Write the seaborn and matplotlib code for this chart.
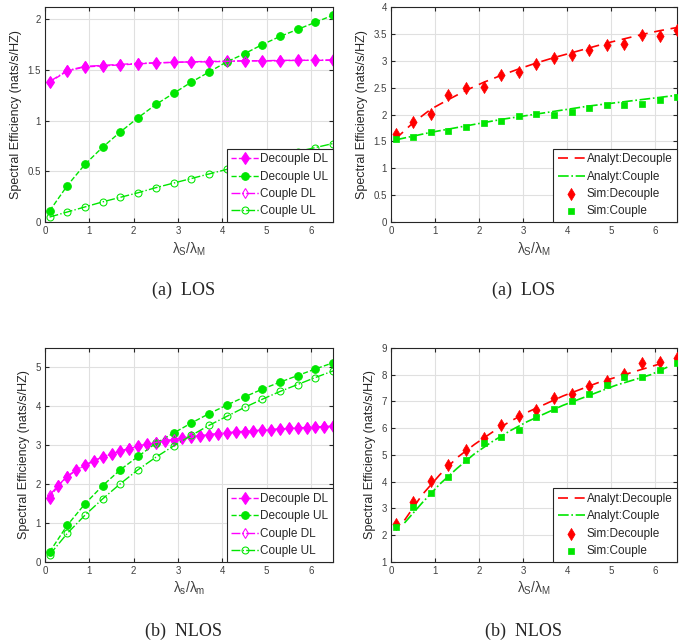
import numpy as np
import pandas as pd
import matplotlib
matplotlib.use('Agg')
import matplotlib.pyplot as plt
import seaborn as sns
from matplotlib.ticker import FormatStrFormatter

# x grids
x = [0.1, 0.5, 0.9, 1.3, 1.7, 2.1, 2.5, 2.9, 3.3, 3.7, 4.1, 4.5, 4.9, 5.3, 5.7, 6.1, 6.5]
x_fine = [0.1, 0.3, 0.5, 0.7, 0.9, 1.1, 1.3, 1.5, 1.7, 1.9, 2.1, 2.3, 2.5, 2.7, 2.9, 3.1, 3.3,
          3.5, 3.7, 3.9, 4.1, 4.3, 4.5, 4.7, 4.9, 5.1, 5.3, 5.5, 5.7, 5.9, 6.1, 6.3, 6.5]
x_an = [0.3, 0.7, 1.1, 1.5, 1.9, 2.3, 2.7, 3.1, 3.5, 3.9, 4.3, 4.7, 5.1, 5.5, 5.9, 6.3]

# (a) LOS, left panel
los_dec_dl = [1.38, 1.49, 1.53, 1.54, 1.55, 1.56, 1.57, 1.575, 1.58, 1.58, 1.585, 1.59, 1.59, 1.59, 1.595, 1.595, 1.595]
los_dec_ul = [0.11, 0.36, 0.57, 0.74, 0.89, 1.03, 1.16, 1.27, 1.38, 1.48, 1.58, 1.66, 1.75, 1.83, 1.90, 1.97, 2.04]
los_cou_dl = [1.385, 1.495, 1.535, 1.545, 1.555, 1.565, 1.57, 1.575, 1.58, 1.585, 1.585, 1.59, 1.59, 1.595, 1.595, 1.595, 1.60]
los_cou_ul = [0.05, 0.10, 0.15, 0.20, 0.245, 0.29, 0.34, 0.385, 0.43, 0.475, 0.52, 0.565, 0.61, 0.65, 0.695, 0.735, 0.775]

# (a) LOS, right panel
los_an_dec = [1.55, 1.85, 2.10, 2.28, 2.45, 2.60, 2.73, 2.85, 2.96, 3.06, 3.15, 3.24, 3.33, 3.41, 3.49, 3.56, 3.62]
los_an_cou = [1.53, 1.60, 1.67, 1.73, 1.79, 1.85, 1.91, 1.96, 2.01, 2.06, 2.11, 2.16, 2.20, 2.24, 2.28, 2.32, 2.36]
los_sim_dec = [1.63, 1.86, 2.01, 2.37, 2.49, 2.51, 2.73, 2.80, 2.94, 3.06, 3.10, 3.20, 3.30, 3.32, 3.48, 3.46, 3.58]
los_sim_cou = [1.54, 1.59, 1.68, 1.70, 1.77, 1.84, 1.88, 1.97, 2.01, 1.99, 2.05, 2.13, 2.17, 2.18, 2.19, 2.27, 2.33]

# (b) NLOS, left panel
nlos_dec_dl = [1.65, 1.96, 2.19, 2.35, 2.48, 2.59, 2.69, 2.77, 2.84, 2.91, 2.97, 3.02, 3.06, 3.10, 3.14, 3.18, 3.21,
               3.24, 3.27, 3.29, 3.31, 3.33, 3.35, 3.37, 3.38, 3.40, 3.41, 3.43, 3.44, 3.45, 3.46, 3.47, 3.48]
nlos_cou_dl = [1.71, 1.97, 2.20, 2.36, 2.49, 2.60, 2.70, 2.78, 2.85, 2.92, 2.98, 3.03, 3.07, 3.11, 3.15, 3.18, 3.22,
               3.25, 3.27, 3.30, 3.32, 3.34, 3.36, 3.37, 3.39, 3.40, 3.42, 3.43, 3.44, 3.46, 3.47, 3.48, 3.49]
nlos_dec_ul = [0.25, 0.94, 1.49, 1.96, 2.37, 2.71, 3.05, 3.31, 3.57, 3.81, 4.03, 4.24, 4.44, 4.62, 4.79, 4.96, 5.12]
nlos_cou_ul = [0.18, 0.73, 1.20, 1.62, 2.01, 2.37, 2.69, 2.98, 3.25, 3.51, 3.74, 3.97, 4.18, 4.38, 4.56, 4.74, 4.91]

# (b) NLOS, right panel
nlos_an_dec = [2.55, 3.50, 4.25, 4.90, 5.40, 5.85, 6.25, 6.60, 6.90, 7.20, 7.45, 7.70, 7.90, 8.10, 8.30, 8.50]
nlos_an_cou = [2.45, 3.20, 3.90, 4.50, 5.05, 5.50, 5.90, 6.25, 6.55, 6.85, 7.10, 7.35, 7.60, 7.80, 8.00, 8.30]
nlos_sim_dec = [2.42, 3.25, 4.02, 4.62, 5.18, 5.63, 6.10, 6.47, 6.69, 7.12, 7.28, 7.58, 7.75, 8.02, 8.44, 8.48, 8.62]
nlos_sim_cou = [2.31, 3.05, 3.56, 4.16, 4.82, 5.45, 5.66, 5.94, 6.41, 6.70, 7.01, 7.26, 7.60, 7.92, 7.92, 8.18, 8.43]

sns.set_style('whitegrid')
plt.rcParams['font.family'] = ['Liberation Sans', 'DejaVu Sans']
plt.rcParams['mathtext.fontset'] = 'custom'
plt.rcParams['mathtext.rm'] = 'Liberation Sans'
plt.rcParams['mathtext.it'] = 'Liberation Sans'

MAG = '#ff00ff'
GRN = '#00e600'
RED = '#ff0000'

fig = plt.figure(figsize=(6.84, 6.42), dpi=100)
ax1 = fig.add_axes([0.066, 0.654, 0.421, 0.335])
ax2 = fig.add_axes([0.572, 0.654, 0.418, 0.335])
ax3 = fig.add_axes([0.066, 0.125, 0.421, 0.333])
ax4 = fig.add_axes([0.572, 0.125, 0.418, 0.333])


def style(ax, ylim, yticks, xlabel):
    ax.set_xlim(0, 6.5)
    ax.set_ylim(*ylim)
    ax.set_xticks(range(7))
    ax.set_yticks(yticks)
    ax.yaxis.set_major_formatter(FormatStrFormatter('%g'))
    ax.grid(True, color='#e0e0e0', linewidth=0.8)
    ax.tick_params(direction='in', length=3, labelsize=7, colors='#262626',
                   labelcolor='#404040', top=True, right=True, bottom=True, left=True, pad=3)
    for s in ax.spines.values():
        s.set_color('#262626')
        s.set_linewidth(0.8)
    ax.set_xlabel(xlabel, fontsize=10, color='#404040', labelpad=3)
    ax.set_ylabel('Spectral Efficiency (nats/s/HZ)', fontsize=9, color='#262626', labelpad=4)
    leg = ax.legend(loc='lower right', fontsize=8.5, borderaxespad=0, fancybox=False,
                    framealpha=1, edgecolor='#262626', handlelength=2.3,
                    borderpad=0.4, labelspacing=0.45, handletextpad=0.15)
    leg.get_frame().set_linewidth(0.8)


def dl_ul(ax, xd, dec_dl, cou_dl, dec_ul, cou_ul):
    sns.lineplot(x=xd, y=dec_dl, ax=ax, color=MAG, linestyle='--', marker='d', markersize=6.5,
                 markeredgecolor=MAG, linewidth=1, label='Decouple DL')
    sns.lineplot(x=x, y=dec_ul, ax=ax, color=GRN, linestyle='--', marker='o', markersize=5.5,
                 markeredgecolor=GRN, linewidth=1, label='Decouple UL')
    sns.lineplot(x=xd, y=cou_dl, ax=ax, color=MAG, linestyle='-.', marker='d', markersize=5,
                 markerfacecolor='none', markeredgecolor=MAG, linewidth=1, label='Couple DL')
    sns.lineplot(x=x, y=cou_ul, ax=ax, color=GRN, linestyle='-.', marker='o', markersize=5,
                 markerfacecolor='none', markeredgecolor=GRN, linewidth=1, label='Couple UL')


def an_sim(ax, xa, an_dec, an_cou, sim_dec, sim_cou):
    sns.lineplot(x=xa, y=an_dec, ax=ax, color=RED, linestyle=(0, (6, 4)), linewidth=1.2,
                 label='Analyt:Decouple')
    sns.lineplot(x=xa, y=an_cou, ax=ax, color=GRN, linestyle='-.', linewidth=1.2,
                 label='Analyt:Couple')
    sns.scatterplot(x=x, y=sim_dec, ax=ax, color=RED, marker='d', s=38, edgecolor=RED,
                    linewidth=0.5, label='Sim:Decouple', zorder=3)
    sns.scatterplot(x=x, y=sim_cou, ax=ax, color=GRN, marker='s', s=20, edgecolor=GRN,
                    linewidth=0.5, label='Sim:Couple', zorder=3)


dl_ul(ax1, x, los_dec_dl, los_cou_dl, los_dec_ul, los_cou_ul)
style(ax1, (0, 2.12), [0, 0.5, 1, 1.5, 2], r'$\lambda_S/\lambda_M$')

an_sim(ax2, x, los_an_dec, los_an_cou, los_sim_dec, los_sim_cou)
style(ax2, (0, 4), np.arange(0, 4.01, 0.5), r'$\lambda_S/\lambda_M$')

dl_ul(ax3, x_fine, nlos_dec_dl, nlos_cou_dl, nlos_dec_ul, nlos_cou_ul)
style(ax3, (0, 5.5), range(6), r'$\lambda_s/\lambda_m$')

an_sim(ax4, x_an, nlos_an_dec, nlos_an_cou, nlos_sim_dec, nlos_sim_cou)
style(ax4, (1, 9), range(1, 10), r'$\lambda_S/\lambda_M$')

cap = dict(fontsize=13, family='Liberation Serif', ha='center', va='center')
fig.text(0.268, 0.548, '(a)  LOS', **cap)
fig.text(0.766, 0.548, '(a)  LOS', **cap)
fig.text(0.268, 0.017, '(b)  NLOS', **cap)
fig.text(0.766, 0.017, '(b)  NLOS', **cap)

fig.savefig('out.png', dpi=100)
